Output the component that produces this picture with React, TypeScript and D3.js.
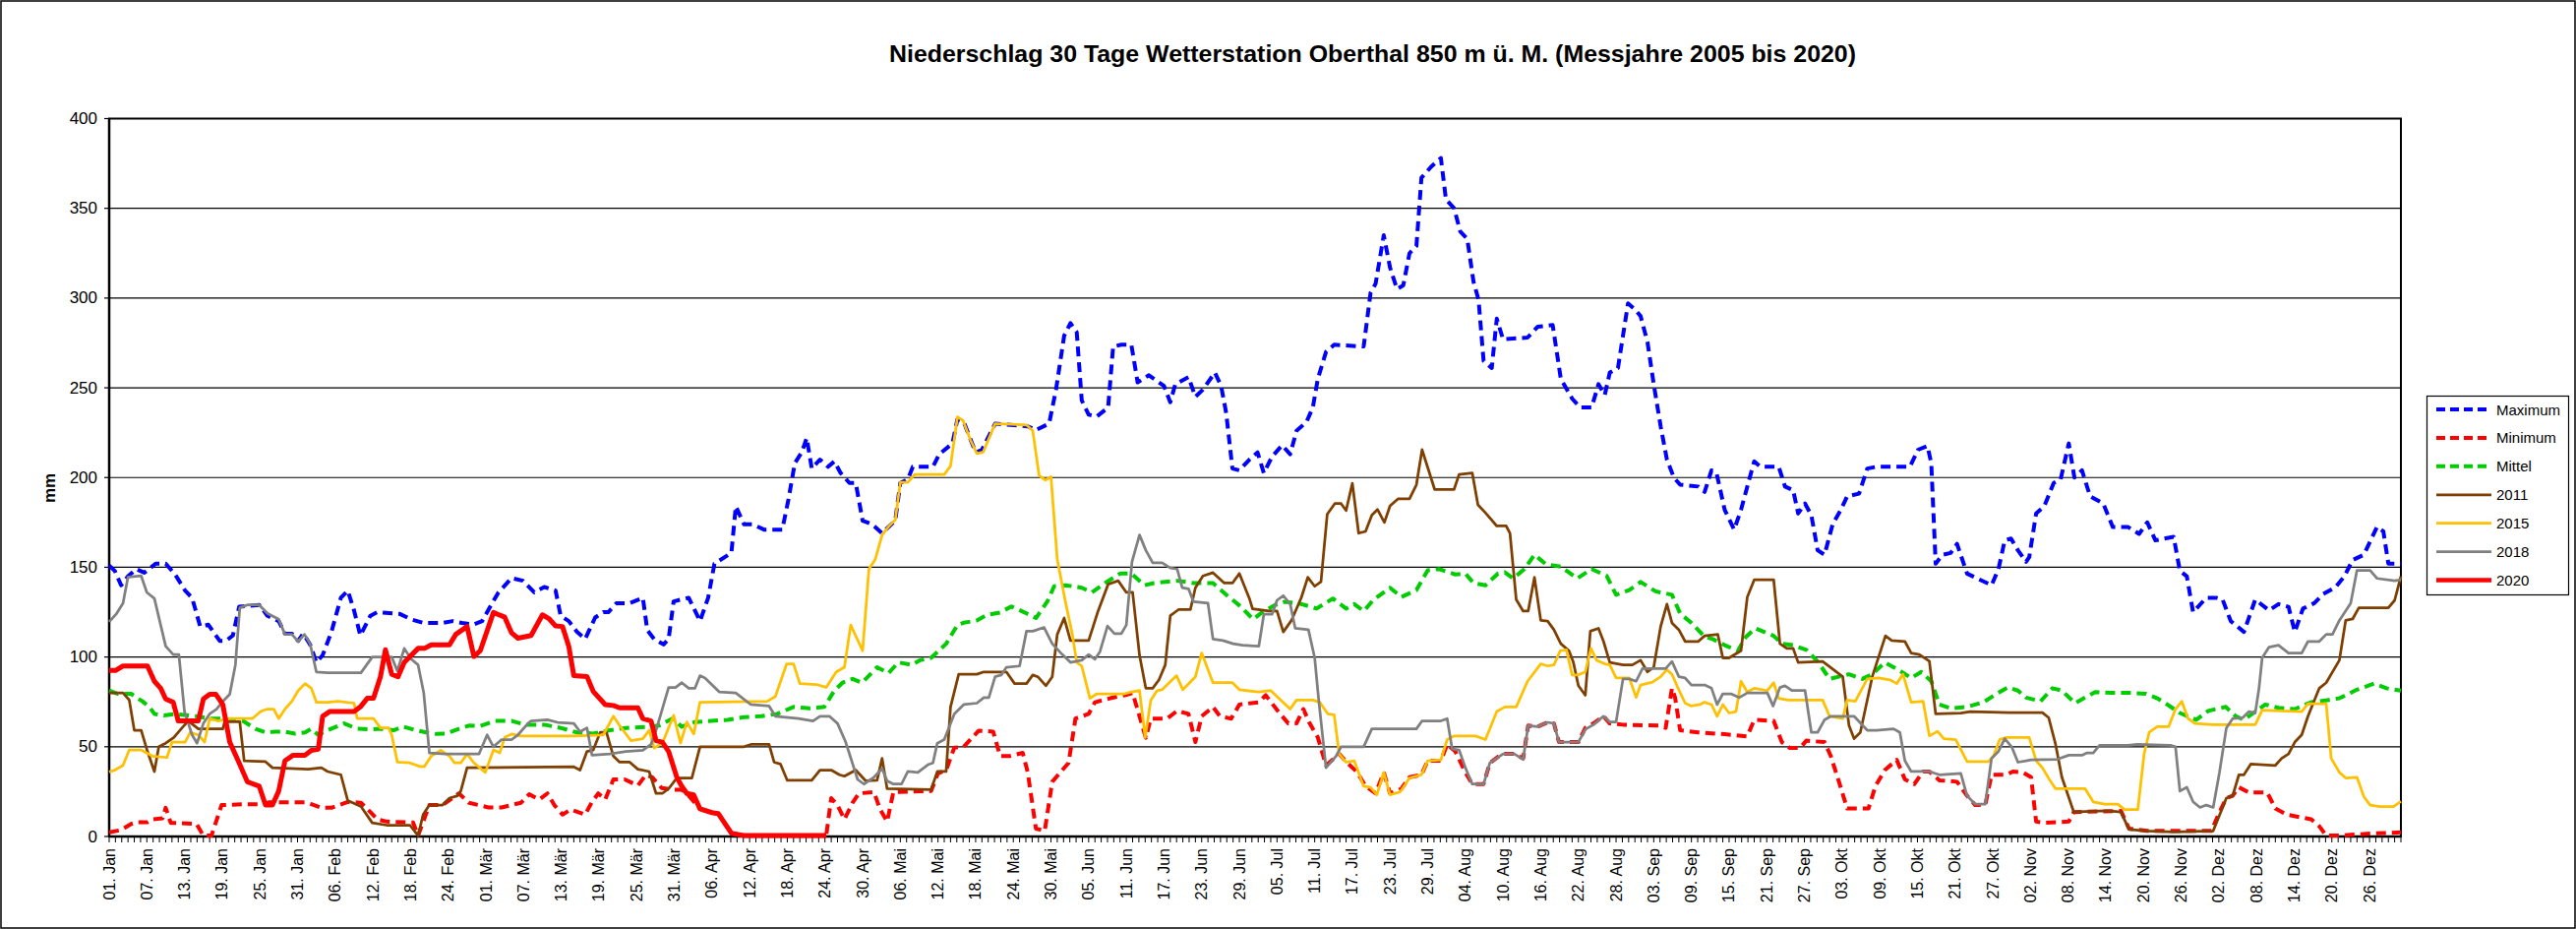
import React from 'react';
import * as d3 from 'd3';

const W = 2619;
const H = 944;

const title = 'Niederschlag 30 Tage Wetterstation Oberthal 850 m ü. M. (Messjahre 2005 bis 2020)';
const yLabel = 'mm';
const monthNames = ['Jan', 'Feb', 'Mär', 'Apr', 'Mai', 'Jun', 'Jul', 'Aug', 'Sep', 'Okt', 'Nov', 'Dez'];
const yTicks = [0, 50, 100, 150, 200, 250, 300, 350, 400];
const dayCount = 366;
const labelStep = 6;

type Pt = [number, number];

const maximum: Pt[] = [[0,151],[0.9,148],[1.9,140],[3,145],[4.3,149],[5.6,147],[7.4,152],[9,152],[10.5,146],[12.1,137],[13.2,133],[14.5,117],[15.8,118],[17.6,109],[18.6,109],[19.7,112],[20.7,128],[23.9,129],[25.2,123],[27,120],[28,113],[29.1,113],[30.1,109],[30.9,113],[32,107],[33,97],[34,101],[35.4,114],[36.9,133],[38,137],[39,126],[40,112],[41.6,123],[42.7,125],[46.3,124],[48.1,121],[50,119],[53.1,119],[54.7,120],[56.2,119],[58,118],[59.4,120],[61,130],[62,136],[64.1,144],[65.9,142.5],[67.7,136],[69.3,139],[71.1,137],[71.9,123],[73.2,120],[74.5,114],[75.8,110],[77.4,122],[78.7,125],[79.5,125],[80.8,130],[82.9,130],[85,133],[85.7,115],[86.8,110],[88.3,107],[89.1,110],[89.9,131],[92.3,133],[94.1,120],[95.4,133],[96.4,152],[99.1,158],[99.8,184],[101.1,174],[102.4,174],[104.3,171],[107.2,171],[108.2,188],[109.2,208],[110.3,214],[111.1,222],[111.9,205],[113.2,210],[114.5,206],[115.5,209],[116.5,202.5],[117.9,197],[118.9,197],[120,176],[121.5,174],[123.1,169],[125.2,176],[126,197],[127.2,199],[128,206],[131.2,206],[132.2,213],[134.3,219],[135.1,232.5],[136.1,231],[138,214],[139,215.5],[141.1,230],[146.3,228.5],[147.6,226.5],[149.7,230],[150.8,249],[152.1,279],[153.1,286],[154.1,281],[154.9,243],[156,235],[157.3,234],[159.1,239],[159.9,273],[161.2,274],[162.8,274],[163.8,253],[165.6,257],[168,251],[169,242],[169.8,252],[171.9,256],[173,245],[174.2,249],[176.1,258.5],[177.1,251],[177.9,236],[178.9,205],[180,204],[181.6,210],[182.9,214],[183.9,202.5],[185.2,211.6],[186.8,218],[188.1,213],[189.1,226],[190.7,231],[191.7,239],[192.5,255],[193.8,270],[195.1,274],[199.8,273],[200.9,303],[201.7,308],[203,335],[204,317],[205.1,305],[206.1,307],[207.1,325],[208.2,329],[209,367],[210.5,373],[212.1,378],[212.9,355],[214.2,350],[215.2,337],[216.3,333],[217.3,309],[218.1,299],[218.9,265],[220.2,261],[221,288.5],[222,277],[225.9,278],[227.5,284],[229.9,285],[231.2,255],[233,244],[234.3,239],[236.1,239],[237.2,252],[238.2,246],[239,258.5],[240.3,261],[241.9,297],[242.9,294],[243.9,290],[245,275.5],[246,252],[247.1,228.5],[248.1,210],[249.2,200],[250.2,196],[253.1,195],[254.1,192],[255.2,204],[256,202.5],[257.3,182],[258.8,171],[259.9,182],[260.9,195],[262,209],[263,206],[265.9,206],[266.9,195],[268.2,193],[269,180],[270.1,185.5],[271.1,179],[272.1,159.5],[273.2,157],[274.5,174],[275.8,182],[276.8,189.5],[278.7,191],[280,205],[281.5,206],[286.8,206],[288.1,215.5],[289.6,217.6],[290.2,208],[290.9,152],[292,157],[293.3,158],[294.3,163],[295.9,146.5],[299.8,140],[300.9,149],[301.9,165],[302.9,166],[304,159.5],[305.3,153],[305.8,155.6],[306.9,180],[308.2,184],[309.7,197],[310.8,199],[312.1,219],[313,200],[314.2,204],[315.5,189.5],[317.6,185.5],[319.1,172.5],[321.5,172.5],[323.3,168.6],[324.6,175],[325.9,165],[328.8,167],[329.8,148],[330.9,145],[331.9,125],[334,133],[335.6,133],[336.6,132],[337.9,120],[340,114],[341.8,132],[344,126],[345.5,129.5],[347.1,128],[348.1,114],[349.4,127],[351.2,130],[352.6,135],[354.6,139],[356,145],[357.3,154],[359.1,157],[361.2,172.5],[362.2,170],[363,152],[365,152]];

const minimum: Pt[] = [[0,2.3],[1.9,3.6],[3.5,7],[4.5,8],[6.1,8],[6.9,9.6],[8.5,10.2],[9,16],[9.8,7.6],[13.9,7],[15,0.5],[16.3,0.5],[17.9,17.5],[21.3,18],[24.4,18],[25.4,19],[31.2,19],[32.2,18],[33.8,16],[35.4,16],[38,19.3],[40.1,18.8],[41.6,13.6],[42.7,9.6],[44.2,8.3],[48.4,7.8],[49.2,0.5],[51,17.5],[53.1,17.5],[54.7,21.4],[55.7,24],[57.3,18.8],[60.4,16.2],[62.5,16.2],[65.6,18.8],[66.9,23.5],[68.5,20.6],[69.8,24],[70.9,17.5],[72.2,12.2],[73.5,15],[75.8,12.2],[76.9,19.3],[77.9,24],[79,20.6],[80.3,31.8],[82.1,31.8],[84.2,28.4],[85.5,34.4],[86.5,33],[88,27],[90,26],[91.2,26],[92,24],[94.1,15.4],[96,13.3],[97,12.8],[99.1,1.8],[101.2,0.5],[114.2,0.5],[115,21.4],[116,17.5],[117.1,9.6],[118.4,18.8],[119.4,24],[121.8,24.8],[122.8,15],[123.9,8.3],[124.9,24.8],[130.9,25.3],[132,35.2],[133.3,37],[134.6,49.5],[136.1,50],[138.5,59],[140.8,58.4],[141.9,44.8],[143.4,44.8],[145.5,46.6],[146.3,35.7],[147.6,4.4],[149,3.1],[150.2,30.5],[151.8,37],[152.8,41],[153.9,65.7],[156,68.3],[157,74.8],[159.4,77],[161.7,78.7],[163,80],[164.1,67],[165.1,55],[165.9,65.7],[168.5,65.7],[170.1,70],[171.9,68.3],[173,52.6],[174,67],[175.8,72.2],[176.9,67],[178.7,65.7],[180,73.5],[183.1,74.8],[184.2,78.7],[186.2,69.6],[187.8,63],[189.1,63],[190.2,71],[191.2,63],[192.5,55.2],[193.8,39.6],[195.9,46],[197.2,41],[198.8,35.7],[200.1,28],[201.7,24],[203,35.7],[204,24],[205.8,26.6],[207.1,33],[209,34.4],[210,42.2],[212.1,42.2],[213.1,51.3],[214.4,47.4],[216,35.7],[217.1,29.2],[218.9,29.2],[219.9,41],[221.8,46],[223.8,46],[225.2,43.5],[226,61.8],[227.5,61.2],[229.1,63.6],[230.1,63],[230.9,52.6],[234,52.6],[235.1,60.5],[236.4,63],[238,67],[239,63],[241.1,62.3],[246.8,61.8],[247.9,60.5],[248.9,82.6],[249.4,77.4],[250.2,59.2],[253.1,58],[257.3,57],[260.9,55.8],[262,65],[265.1,64.4],[266.4,52.6],[267.7,49.3],[269.3,49.3],[270.3,53.4],[273.2,52.6],[274.2,44.8],[275.5,30.5],[276.8,15.6],[280.2,15.6],[281.3,28],[282.8,37],[284.7,42.7],[286,31.8],[287.5,29.2],[288.9,36.2],[289.9,36.2],[291.5,31.3],[294.3,30.5],[295.9,22.7],[297.2,17.5],[298.8,17.5],[299.8,34.4],[302.2,34.4],[303.2,36.2],[304.8,35.7],[306.1,33],[306.9,8.3],[308.4,7.6],[312.1,8.3],[312.9,13.6],[320.4,14.3],[321.7,4.4],[324.6,3.1],[334.8,3.1],[336.1,13.6],[337.2,21.4],[338.2,22.7],[339.2,27.4],[340.8,24.5],[343.7,24.5],[345,15.6],[346.8,12.2],[348.6,11],[350.7,9.6],[352,5.7],[353.1,0.5],[355.2,0.5],[357,1],[361.2,1.8],[365,2.3]];

const mittel: Pt[] = [[0,81.3],[1.4,79.5],[3.5,79.5],[5.3,75.3],[6.4,72.2],[7.2,68.3],[8.7,67.5],[10.5,68.3],[13.9,67],[16,65.7],[17.6,65.7],[19.2,65],[21.3,64.4],[23.3,60],[24.9,58],[26.5,58.4],[28,58.4],[29.6,57.3],[31.2,58],[32.2,60],[33.3,56.6],[34.8,59.2],[37.4,63],[39.5,60],[41.6,59.7],[43.2,60],[45.3,59.2],[46.8,61.2],[48.9,59.2],[50.5,58],[52.1,57.1],[53.6,57.3],[55.7,60],[57.3,61.8],[59.1,61.5],[61.5,64.4],[64.1,64.4],[66.2,62.3],[69.3,62.3],[71.9,60.5],[74.5,58],[77.1,57.3],[79.7,59.2],[82.3,60.5],[85.5,61],[87.6,61.8],[89.7,65.7],[91.2,61.2],[93.3,63.8],[95.9,64.4],[98.5,65],[101.1,66.5],[103.8,67],[106.4,68.3],[109,72.2],[111.6,71.4],[113.9,72.2],[115.5,81.3],[116.8,85.7],[118.4,87.8],[119.9,85.7],[120.5,87.8],[122.3,94.3],[124.1,91],[125.7,97],[127.8,95.6],[129.1,98.2],[130.9,99.5],[133.3,107.4],[135.1,117.8],[136.1,119.1],[138.2,120.4],[139.8,123.5],[141.9,124.8],[143.7,128.2],[146.1,124.3],[147.6,121.7],[149.4,130.8],[150.5,139.4],[152.3,140],[154.9,138.6],[156.5,136],[158.6,141.2],[161,146.5],[162.8,146.5],[164.9,140],[166.4,141.2],[170.1,142.5],[172.7,141.2],[175.8,141.2],[177.9,134.7],[180.2,128.2],[182.2,121],[183.6,124.8],[185.7,129],[187.3,130.8],[189.9,129.5],[192.3,127],[194.9,132.6],[197,127],[198.3,129.5],[199.8,125.6],[201.4,132],[204,138.6],[205.8,133.4],[208.2,137.3],[210,148.3],[211.8,149],[214.4,146],[216,146.5],[217.3,141.2],[219.2,140],[221.2,146.5],[222.3,147.2],[223.6,143.8],[225.4,149],[227,157],[228.8,151.7],[231.2,150.4],[233.8,143.8],[236.1,149],[238.5,145.2],[240,134.7],[242.1,137.3],[243.9,141.8],[246.3,136.6],[248.9,134.7],[250.2,124.3],[252,119],[254.1,111.3],[255.4,110],[257.3,106.6],[259.4,103.5],[260.7,111.3],[262.2,116],[265.1,111.8],[266.4,107.4],[268.2,106.6],[270.3,104],[272.1,97.5],[274,87.8],[277.1,90.4],[279.2,87.8],[280.8,90.4],[282.8,97],[284.9,93],[287,88.3],[288.6,91.7],[290.2,86.5],[291.5,73.5],[293.3,71.4],[295.9,72.2],[298.5,74.8],[300.6,79.5],[302.4,83.1],[304,81.3],[305.3,77.4],[307.6,75.3],[309.5,82.6],[311,81.3],[313.1,74.3],[316.3,80.5],[318.9,80],[322,80],[324.4,79.5],[326.2,77],[327.8,73.5],[329.8,68.8],[332.4,65],[334.3,70],[337.1,72.2],[338.7,67],[340,65],[341.3,68.3],[343.4,73.5],[345.5,71.7],[348.1,71],[350.7,74.8],[353.3,76],[355.2,77],[358,81.8],[360.7,85.2],[362.7,82.6],[365,81.3]];

const y2011: Pt[] = [[0,80],[2.2,80],[3.2,76],[4,59.2],[5.1,59.2],[6.1,47.4],[7.2,36.2],[7.9,50],[9,52],[10.3,55.2],[11.6,60.5],[12.6,64.4],[14.2,60],[18.1,60],[18.4,64],[20.8,64],[21.5,42.2],[24.9,41.7],[26,38.3],[31.7,37.5],[33.8,38.3],[34.8,36.2],[36.9,34.4],[38,20],[40.1,16.7],[41.9,7.6],[44.2,6.3],[47.9,6.3],[49.2,0.5],[50,12.2],[51,17.5],[53.1,17.5],[54.2,21.4],[55.5,22.7],[56,25.3],[57,38.3],[74,38.8],[75,37],[76.1,47.4],[77.1,48.2],[78.2,58],[79.2,58],[80.3,44.8],[81.3,41.4],[82.9,41.4],[84.2,37.5],[86,36.2],[87.1,24],[88.1,24],[89.1,26.6],[90.4,32.6],[92.8,32.6],[94.1,50],[101.1,50],[102.2,51.3],[105.1,51.3],[105.9,41.4],[106.9,40.4],[108,31.3],[111.9,31.3],[113.2,37],[115,37],[116.3,34.4],[117.1,33.6],[118.9,37],[120.5,31],[122.3,31.3],[123.1,43.5],[123.9,26.6],[130.9,26.1],[131.9,36.2],[133.3,36.2],[134,72.2],[135.3,90.4],[138.2,90.4],[139.3,91.7],[142.9,91.7],[144.2,85.2],[146.1,85.2],[147.1,90],[147.9,89],[149.2,84],[150.2,89],[151,112.6],[152.1,121.7],[153.1,109.2],[156,109.2],[157.5,125.6],[159.1,140.5],[160.7,142.5],[162,136],[163,136],[164.1,101],[165.1,82.6],[166.2,82.6],[167.2,87.3],[168.2,95.6],[169,123],[170.3,126.4],[172.2,126.4],[173,138.6],[174.2,145.2],[175.8,147],[177.6,141.2],[178.9,141.2],[180,146.5],[181.6,132.6],[182.1,126.9],[184.7,125.6],[186,125.6],[187,114],[188.3,120.4],[189.9,133.4],[190.9,144.4],[192,139.4],[193,142],[194,179.6],[195.2,185.5],[196.2,185.5],[197,181.6],[198,196.8],[199,169],[200.1,170],[201.1,179],[202,182.2],[203.1,175],[204,184.2],[205.3,188.2],[207.1,188.2],[208.2,196],[209.1,215.5],[210,205.6],[211.1,193.4],[214.2,193.4],[215,201.7],[217.1,202.5],[218,184.8],[219.2,180.3],[221,173],[222.5,173],[223.1,169],[224.1,132],[225.2,125.6],[226,125.6],[227,144.4],[228,120.4],[229.1,120],[230.1,115.2],[231.2,107.4],[232.5,103.5],[233.2,97],[234,84],[235.1,78.7],[235.9,114.4],[237.2,116],[238,108.7],[239,97],[241.1,95.6],[242.6,95.6],[243.9,98.2],[245,91.7],[246,94.3],[247.1,117],[248.1,129.5],[248.9,119],[250,115.2],[251,108.7],[253.1,108.7],[254.1,111.8],[256.2,112.6],[257,99.5],[258,99.5],[259.9,103.5],[260.9,133.4],[262,143],[265.1,143],[266.1,107.4],[267.2,104.8],[268.2,104.8],[269,97],[272.9,97.5],[276.1,89],[277.1,61.8],[277.9,54.5],[278.9,58],[280.8,89],[282.9,111.8],[283.9,109.2],[286,108.7],[287,102.2],[288.3,101.4],[289.9,97.7],[290.9,68.3],[294.9,68.8],[296.4,69.6],[302.7,69],[307.9,69],[308.9,66.2],[310,51.3],[311,33],[312.9,13.6],[315.7,14],[318.3,14.3],[320.4,13.6],[321.7,3.9],[324.6,3.1],[328.8,2.6],[335.1,3.1],[337.2,21.4],[338.2,22.7],[339.2,34.4],[340,34.4],[341.1,40.4],[345,39.6],[346,43.5],[347.1,46],[348.1,52.6],[349.2,56.6],[350.2,67],[352,82.6],[353.1,85.7],[355.2,98.2],[356.2,120.4],[357.3,121.2],[358.3,127.4],[363,127.4],[364,131.6],[365,145]];

const y2015: Pt[] = [[0,36],[0.9,37],[2.2,39.6],[3.2,48.2],[5.1,48.2],[6.9,44.8],[9.2,44],[10,52.6],[12.1,52.6],[12.9,58],[14.2,56.6],[15.2,52.6],[16,65.7],[17.3,64.4],[19.2,65.7],[22.8,65.7],[24.1,69.6],[25.2,71],[26.2,71],[27,65.7],[28,71],[29.1,75.3],[30.1,81.3],[31.2,85.2],[32.2,82.6],[33,74.8],[34.8,74.8],[36.4,75.3],[39,74.3],[39.5,65.7],[42.1,65.7],[43.2,60.5],[44.5,60.5],[45,56.6],[45.9,41.4],[47.9,41],[49.5,39],[50.2,39],[51.3,44.8],[52.8,48],[54.2,44.8],[55,41],[56,41],[57,46],[58.1,41],[59.9,35.7],[61.2,48.2],[62.2,46.6],[63,55.2],[64.1,57.1],[65.6,56],[74,56],[78.7,56.6],[80.3,67],[81.3,61.8],[83.1,53.4],[85,54.5],[86,59.2],[86.8,49.3],[88.1,52],[89.9,67.5],[91,52],[92,63.8],[93.1,57.1],[94.1,74.8],[104.8,75.3],[106.1,78],[107.9,96.2],[109,96.2],[110,85.2],[112.6,84.7],[114.2,83.1],[115.8,91.7],[117.1,94.3],[118.1,117.8],[120,103.5],[121,149],[122,154.3],[123.1,168],[124.1,172.5],[125.2,176.4],[126,197.3],[127.2,197.3],[128.3,201.7],[133,201.7],[134,206.4],[135.1,233.8],[136,231.7],[137.2,220.7],[138.2,213.4],[139.2,214.2],[141.1,230],[146.1,229.3],[147.1,226],[148.1,201.2],[149.1,198.6],[150,200.4],[151,154.3],[152.3,130.8],[153.4,112.6],[154.1,97],[154.9,95],[156.2,77],[157.3,79.5],[161.7,79.5],[162.8,80.5],[164.1,81.3],[165,55.2],[165.9,76],[166.9,81.3],[167.7,81.8],[170,89.6],[171,81.8],[173,89],[174,102.2],[175.8,85.7],[178.9,85.7],[180,81.8],[183.1,80.5],[185,81.3],[188.1,71],[189.1,76],[191.7,76],[192.8,74.8],[194.1,68.3],[195.1,67.8],[195.9,46],[197,41.4],[198.3,42.2],[199.8,28],[200.9,27.4],[201.9,23.2],[203,35.7],[204,23.2],[205.6,24.8],[207.1,32.6],[209,34.4],[210,42.2],[212.1,42.7],[213.1,54],[214.2,56],[217.6,56],[219.2,54],[221,69.6],[222.3,72.2],[224.1,72.2],[225.9,86.5],[228,96.2],[229.1,95],[230.1,95.6],[231.1,103.5],[232.1,104],[233,90],[234,90],[235.1,91.7],[236,104.8],[236.9,98.2],[238.2,96.2],[239,95.6],[240,88.3],[242.1,88.3],[243.2,77.5],[243.9,84.4],[245.8,86],[247.1,89],[248.1,93],[248.9,90.4],[249.7,84],[251,74.3],[252,72.7],[253.3,73.5],[254.1,74.8],[255.2,73.5],[256.1,67],[257,73.5],[258,68.8],[259.1,69.6],[259.9,86.5],[260.9,80.5],[262,82.6],[264.1,81.3],[265.1,85.7],[265.9,77],[267.4,76],[272.9,76],[274,67],[276.1,65.7],[276.8,76],[278.1,75.3],[280,87.8],[281.8,88.3],[283.6,87.3],[284.7,85.2],[285.7,90.4],[287,74.8],[288.9,75.3],[289.9,56],[291.2,58.6],[292.2,54.5],[294.1,54],[295.9,41.7],[299.3,41.7],[300.1,44.8],[301.1,54],[302.2,55.2],[305.8,55.2],[306.9,42.2],[307.9,38.3],[309,31.8],[310,26.6],[314.7,26.6],[316,19.3],[317.8,18],[319.9,18],[321,15],[323.1,15],[324.1,46],[324.9,58],[326.2,61.2],[328,61.2],[329.1,71],[330.1,75.3],[331.1,65.7],[332.2,63],[335.1,62.3],[341.8,62.3],[342.9,70.4],[349.2,69.6],[350.2,74],[353.1,74],[353.9,43.5],[355.2,35.7],[356.2,32.6],[358,33],[359.1,22.2],[360.1,17.5],[361.7,16.7],[363.8,16.7],[365,19.5]];

const y2018: Pt[] = [[0,119.6],[1.2,124.3],[2.2,130],[3,144.6],[5.1,145.2],[6,136],[7.2,132.6],[9,106],[10.2,101.4],[11.1,101.4],[12,69.6],[13.2,56.6],[14,52],[15,63],[16,68.3],[17.1,71],[18.1,75.3],[19.2,79.2],[20.1,95.6],[20.8,127.4],[22,129],[23.9,129],[25.2,124.3],[27,121],[28,112.6],[29.1,112.6],[30.1,108.7],[31.1,112.6],[32,107.4],[33,91.7],[34.8,91.2],[40.1,91.2],[41.9,100],[45,100],[45.9,92.3],[47,104.8],[48.1,98.8],[49.2,95.6],[50.1,80],[51,46.6],[53.6,46],[58.9,46],[60.2,56.6],[61.2,50],[62.5,54],[64.1,54],[65.1,56.6],[66.7,63],[67.2,64.4],[69.8,65],[71.4,63.6],[74,63],[75,58.4],[76.1,60.5],[76.9,45.3],[79.7,46],[82.3,47.4],[85,48],[86.3,51.3],[87.1,59.2],[89.1,83],[90.2,83],[91.2,85.7],[92.3,82.6],[93.3,82.6],[94.1,89.6],[94.9,88.3],[97.2,80.5],[99.8,80],[102.2,73.5],[105.1,72.7],[106.1,67],[109.8,65.7],[112.1,64.4],[113.2,67],[114.7,67],[116,63],[117.3,52.6],[119.2,31.8],[120.2,29.2],[121.8,33],[123.1,37.8],[123.9,31],[124.9,29.2],[126.2,29.2],[127.2,36.2],[128.8,35.7],[130.4,40],[131.2,41],[131.9,52],[133,54],[134.6,68.3],[136.1,73.5],[138.2,74.3],[139.3,77.4],[140.1,77.4],[141.1,89],[142.1,90],[142.9,94.3],[145,95],[146.1,114.4],[147.1,114.4],[148.9,116.5],[150.2,107.4],[151.8,101.4],[153.1,97],[154.9,98.2],[156,101.4],[157,98.8],[157.8,103],[159,117.3],[160.1,113],[161.2,113],[162,117.8],[162.9,153],[164.1,168],[165.1,159.5],[166.2,152.5],[167.7,152.5],[169,149.6],[170.1,149],[170.9,138.6],[171.9,138],[172.7,130.8],[175,130],[175.8,110],[177.4,109.2],[179,107.4],[180.5,106.6],[183.1,106],[183.9,123.8],[185.2,123.8],[186,131.6],[187,134.2],[188.1,129.5],[188.9,116],[191,115.2],[192,99.5],[192.6,77.4],[193.8,38.3],[195.4,44.8],[196.2,50],[199.8,50],[201.1,60],[208.2,60],[209.1,64.4],[212.1,64.4],[213.1,65.7],[213.9,48.7],[215,48.2],[216,38.3],[217.1,29.2],[218.9,29.2],[219.9,41],[222,46],[223.8,46],[225.2,43],[226,61.8],[227.5,61.2],[229.1,63.6],[230.1,63],[230.9,52.6],[234,52.6],[235.1,59.7],[236.4,62.3],[238,67],[239,63.8],[240,63.8],[241.1,87.8],[242.1,87.8],[243.2,86.5],[244.2,93.6],[247.9,93.6],[248.9,97.5],[250,89],[251,88.3],[252,84.4],[254.1,84.4],[255.2,82.6],[256.1,73.5],[257,79.5],[258.3,79.5],[259.6,77.4],[260.9,80],[264.1,80],[265,72.7],[266.1,83],[266.9,84],[268,81.3],[270.1,81.3],[271.1,58],[272.1,58],[273.2,65],[274.2,67],[277.9,67],[280,59.2],[281.5,59.2],[284.2,60],[285.2,58],[286,42.2],[287,36.2],[289.9,36.2],[291.5,34.4],[294.9,35.2],[295.9,22.7],[297.2,18],[298.8,18],[299.8,43.5],[300.9,47.4],[301.9,54.5],[303,50],[304,41.4],[305.3,42.2],[306.1,42.7],[310.3,43],[312.1,45.3],[314.2,45.3],[315,46.6],[316,46.6],[317,50.8],[321.5,50.8],[323,51.3],[328.3,50.8],[329.1,50],[329.8,25.3],[330.9,27.4],[331.9,19.3],[333,16.2],[334,17.5],[335.1,16.2],[336.1,35.7],[337.2,60.5],[338.2,65.7],[339.8,66.2],[340.8,69.6],[341.8,68.8],[342.4,82.6],[342.9,99.5],[344,105.5],[345.5,106.6],[347.1,102.2],[349.2,102.2],[350.2,108.7],[352,108.7],[353.1,112.6],[354.1,112.6],[355.2,120.4],[357,130],[358,148.3],[360.1,148.3],[361.2,143.8],[364,142.5],[365,143]];

const y2020: Pt[] = [[0,92.5],[1,92.5],[2.2,95],[6.1,95],[7.2,86.5],[8.2,82.6],[9,76.6],[10.2,74.8],[11,64.4],[14.2,64.4],[15,76.6],[16,79.2],[17,79.2],[18.1,73.5],[19.2,52.6],[20.7,41],[22,30.5],[23.9,28],[24.9,17.5],[26,17.5],[27,25.3],[28,42.2],[29.3,45.3],[31.2,45.3],[32.2,48],[33.3,48.7],[34,67],[35.1,69.6],[39,69.6],[40,72.2],[41.1,77],[42.1,77],[43.2,89],[44,104],[45,90.4],[46,89],[47,97],[49.2,104.8],[50.2,104.8],[51.3,106.8],[54.2,106.8],[55.2,112.6],[57,117],[58.1,100.3],[59.1,103.5],[61.2,124.8],[63,122.2],[64.1,113.4],[65.1,110.5],[67.2,112],[69,123.5],[70.1,121.2],[71.1,117.3],[72.2,117],[73.2,106],[74,89.6],[76.1,89.1],[77.1,80.8],[79,73.5],[80.3,73],[81.3,71.7],[84.2,71.7],[85,65.7],[86.3,64.4],[87.1,53.4],[88.1,52.6],[89.1,47.4],[90.4,33],[91.2,28],[92,24],[93.1,23.2],[94.1,15.4],[96,13.3],[97,12.8],[99.1,1.8],[101.2,0.5],[114.2,0.5]];

const seriesNames = ['Maximum', 'Minimum', 'Mittel', '2011', '2015', '2018', '2020'];
const seriesData = [maximum, minimum, mittel, y2011, y2015, y2018, y2020];
const seriesColors = ['#0000FF', '#FF0000', '#00CC00', '#7F3F00', '#FFC000', '#808080', '#FF0000'];
const seriesWidths = [4, 4, 4, 2.75, 2.75, 2.75, 5];
const seriesDash = ['10,6', '10,6', '10,6', null, null, null, null];

const FONT = "'Liberation Sans', Arial, sans-serif";

export default function App() {
  const left = 111, right = 2441, top = 120.5, bottom = 850;
  const x = d3.scaleLinear().domain([0, dayCount - 1]).range([left, right]);
  const y = d3.scaleLinear().domain([0, 400]).range([bottom, top]);
  const line = d3.line<Pt>().x(d => x(d[0])).y(d => y(d[1])).curve(d3.curveLinear);

  const days = d3.range(dayCount);
  const start = new Date(2020, 0, 1);
  const labelDays = days.filter(d => d % labelStep === 0);
  const labelText = (d: number) => {
    const dt = d3.timeDay.offset(start, d);
    const dd = String(dt.getDate()).padStart(2, '0');
    return `${dd}. ${monthNames[dt.getMonth()]}`;
  };

  const legX = 2467.5, legY = 402.5, legW = 144, legH = 202;
  const legItemY = (i: number) => 416 + i * 28.93;

  return (
    <svg width={W} height={H} style={{ position: 'absolute', left: 0, top: 0, background: '#fff' }} fontFamily={FONT}>
      <rect x={0} y={0} width={W} height={H} fill="#fff" />
      <rect x={1} y={1} width={W - 2} height={H - 2} fill="none" stroke="#000" strokeWidth={1.5} />
      <text x={904} y={63} textAnchor="start" fontSize={24} fontWeight="bold" fill="#000"
        textLength={983} lengthAdjust="spacingAndGlyphs">{title}</text>

      {yTicks.map(t => (
        <g key={t}>
          <line x1={left} x2={right} y1={y(t)} y2={y(t)} stroke="#000" strokeWidth={1.2} />
          <line x1={left - 5} x2={left} y1={y(t)} y2={y(t)} stroke="#000" strokeWidth={1.2} />
          <text x={99} y={y(t)} textAnchor="end" dominantBaseline="central" fontSize={17} fill="#000">{t}</text>
        </g>
      ))}
      <rect x={left} y={top} width={right - left} height={bottom - top} fill="none" stroke="#000" strokeWidth={2} />
      <line x1={left} x2={left} y1={top} y2={bottom} stroke="#000" strokeWidth={2.5} />
      <line x1={left} x2={right} y1={bottom} y2={bottom} stroke="#000" strokeWidth={2.5} />

      {days.map(d => (
        <line key={d} x1={x(d)} x2={x(d)} y1={bottom} y2={bottom + 6} stroke="#000" strokeWidth={1} />
      ))}
      {labelDays.map(d => (
        <text key={d} transform={`translate(${x(d)},862) rotate(-90)`} textAnchor="end" dominantBaseline="central" fontSize={16} fill="#000">{labelText(d)}</text>
      ))}

      <text transform={`translate(50,496) rotate(-90)`} textAnchor="middle" dominantBaseline="central" fontSize={17} fontWeight="bold" fill="#000">{yLabel}</text>

      {seriesData.map((data, i) => (
        <path key={seriesNames[i]} d={line(data) || ''} fill="none" stroke={seriesColors[i]} strokeWidth={seriesWidths[i]}
          strokeDasharray={seriesDash[i] || undefined} strokeLinejoin="round" />
      ))}

      <rect x={legX} y={legY} width={legW} height={legH} fill="#fff" stroke="#000" strokeWidth={1.2} />
      {seriesNames.map((n, i) => (
        <g key={n}>
          <line x1={2477} x2={2533} y1={legItemY(i)} y2={legItemY(i)} stroke={seriesColors[i]} strokeWidth={Math.min(seriesWidths[i], 4.5)}
            strokeDasharray={seriesDash[i] ? '9,5' : undefined} />
          <text x={2538} y={legItemY(i)} dominantBaseline="central" fontSize={15} fill="#000">{n}</text>
        </g>
      ))}
    </svg>
  );
}
